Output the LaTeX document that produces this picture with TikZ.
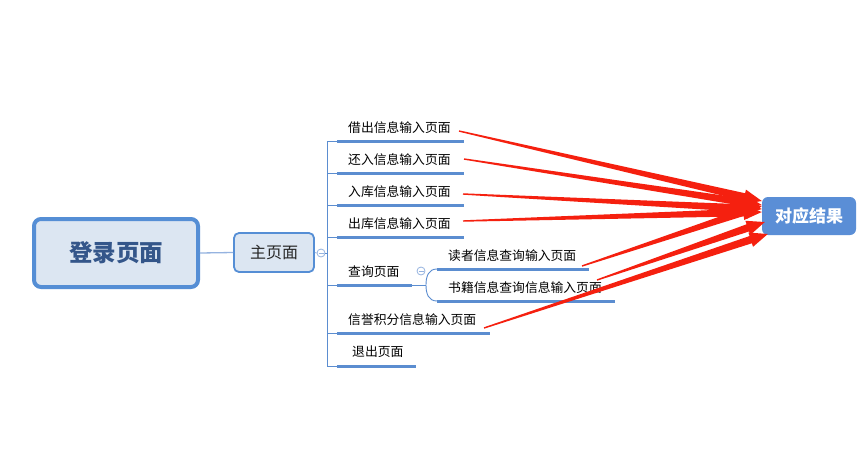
\documentclass[tikz,border=0pt]{standalone}
\usepackage{fontspec}
\setmainfont{Noto Sans CJK SC}
\usetikzlibrary{calc}
\definecolor{bord}{HTML}{558ED5}
\definecolor{lfill}{HTML}{DCE6F2}
\definecolor{ttext}{HTML}{34568A}
\definecolor{resfill}{HTML}{5A8ED6}
\definecolor{arr}{HTML}{F5200F}
\definecolor{thinb}{HTML}{5B8DD0}
\definecolor{conn}{HTML}{95B3E0}
\newcommand{\taperarrow}[2]{%
  \path ($(#2)!18pt!(#1)$) coordinate (tb);
  \fill[arr] ($(#1)!0.7pt!90:(#2)$) -- ($(tb)!3.8pt!90:(#2)$) -- ($(tb)!7.5pt!90:(#2)$) -- (#2)
    -- ($(tb)!7.5pt!-90:(#2)$) -- ($(tb)!3.8pt!-90:(#2)$) -- ($(#1)!0.7pt!-90:(#2)$) -- cycle;}
\tikzset{
  lbl/.style={anchor=west, inner sep=0pt, font=\fontsize{12.8pt}{14pt}\selectfont, text=black},
  ul/.style={draw=thinb, line width=3pt},
  tick/.style={draw=thinb, line width=0.9pt},
  fold/.style={circle, draw=conn, fill=white, line width=0.8pt, minimum size=8pt, inner sep=0pt},
}
\begin{document}
\begin{tikzpicture}[x=1pt,y=-1pt]
\useasboundingbox[fill=white] (0,0) rectangle (866,474);
% main nodes
\node[draw=bord, line width=4pt, fill=lfill, rounded corners=7pt, minimum width=164pt, minimum height=68pt,
  font=\fontsize{23.5pt}{26pt}\selectfont\bfseries, text=ttext] (login) at (116,253) {登录页面};
\node[draw=bord, line width=1.8pt, fill=lfill, rounded corners=5pt, minimum width=80pt, minimum height=39pt,
  font=\fontsize{16pt}{18pt}\selectfont, text=black!85] (home) at (274,252.5) {主页面};
\node[fill=resfill, rounded corners=6pt, minimum width=94pt, minimum height=38pt,
  font=\fontsize{17pt}{19pt}\selectfont\bfseries, text=white] (res) at (809,216) {对应结果};
\draw[conn, line width=1.3pt] (login.east) -- (home.west);
\node[fold] (f1) at (321,253) {};
\draw[conn, line width=0.8pt] ($(f1.center)+(-2.5,0)$) -- ($(f1.center)+(2.5,0)$);
\draw[conn, line width=0.8pt] (home.east) -- (f1.west);
% tree trunk
\coordinate (trtop) at (327,141);
\coordinate (trbot) at (327,366);
\draw[tick] (trtop) -- (trbot);
\draw[tick] (f1.east) -- (327,253);
% branch labels
\node[lbl] (b1) at (348,128) {借出信息输入页面};
\node[lbl] (b2) at (348,160) {还入信息输入页面};
\node[lbl] (b3) at (348,191.5) {入库信息输入页面};
\node[lbl] (b4) at (348,223.5) {出库信息输入页面};
\node[lbl] (b5) at (348,272) {查询页面};
\node[lbl] (b6) at (348,320) {信誉积分信息输入页面};
\node[lbl] (b7) at (352,352) {退出页面};
\node[lbl] (c1) at (448,256) {读者信息查询输入页面};
\node[lbl] (c2) at (448,288) {书籍信息查询信息输入页面};
% ticks and underlines
\foreach \y/\xe in {141/464,173/464,205/464,237/464,285/412,333/490,366/416}{
  \draw[tick] (327,\y) -- (337,\y);
  \draw[ul] (337,\y) -- (\xe,\y);
}
% sub-branch
\draw[tick] (412,285) -- (426,285);
\draw[tick] (437,269) .. controls (428,269) and (426,277) .. (426,285) .. controls (426,293) and (428,301) .. (437,301);
\draw[ul] (437,269) -- (589,269);
\draw[ul] (437,301) -- (615,301);
\node[fold] (f2) at (421,271) {};
\draw[conn, line width=0.8pt] ($(f2.center)+(-2.5,0)$) -- ($(f2.center)+(2.5,0)$);
% arrows
\coordinate (s1) at (459,131);
\coordinate (s2) at (464,159);
\coordinate (s3) at (463,194);
\coordinate (s4) at (463,221);
\coordinate (s5) at (582,266);
\coordinate (s6) at (597,280);
\coordinate (s7) at (484,328);
\coordinate (t1) at ($(res.west)+(0,-15)$);
\coordinate (t2) at ($(res.west)+(0,-11)$);
\coordinate (t3) at ($(res.west)+(0,-7)$);
\coordinate (t4) at ($(res.west)+(0,-4)$);
\coordinate (t5) at ($(res.west)+(0,-10)$);
\coordinate (t6) at ($(res.west)+(3,6)$);
\coordinate (t7) at ($(res.west)+(6,18)$);
\taperarrow{s1}{t1}
\taperarrow{s2}{t2}
\taperarrow{s3}{t3}
\taperarrow{s4}{t4}
\taperarrow{s5}{t5}
\taperarrow{s6}{t6}
\taperarrow{s7}{t7}
\end{tikzpicture}
\end{document}
